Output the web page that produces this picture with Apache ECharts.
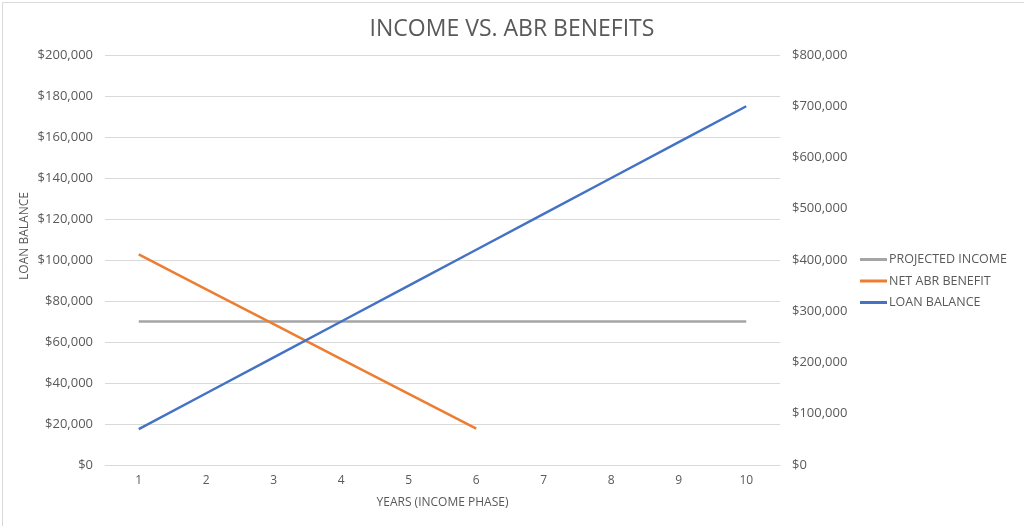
<!DOCTYPE html>
<html>
<head>
<meta charset="utf-8">
<script src="https://cdn.jsdelivr.net/npm/echarts@6/dist/echarts.min.js"></script>
<style>
  html, body { margin: 0; padding: 0; background: #fff; }
  #chart { width: 1024px; height: 526px; }
</style>
</head>
<body>
<div id="chart"></div>
<script>
// Years of the income phase
const years = ['1', '2', '3', '4', '5', '6', '7', '8', '9', '10'];
// Flat projected income (left axis)
const projectedIncome = [70000, 70000, 70000, 70000, 70000, 70000, 70000, 70000, 70000, 70000];
// Net ABR benefit, ends after year 6 (left axis)
const netAbrBenefit = [102700, 85700, 68700, 51700, 34700, 17700];
// Loan balance growth (right axis)
const loanBalance = [70000, 140000, 210000, 280000, 350000, 420000, 490000, 560000, 630000, 700000];

const FONT = '"Open Sans", "DejaVu Sans", sans-serif';
const TXT = '#595959';
const money = v => '$' + v.toLocaleString('en-US');

const chart = echarts.init(document.getElementById('chart'));
chart.setOption({
  backgroundColor: '#ffffff',
  animation: false,
  textStyle: { fontFamily: FONT },
  title: {
    text: 'INCOME VS. ABR BENEFITS',
    left: 'center',
    top: 13,
    textStyle: { fontFamily: FONT, fontSize: 23, fontWeight: 'normal', color: TXT }
  },
  legend: {
    orient: 'vertical',
    left: 860,
    top: 253,
    padding: 0,
    itemWidth: 27,
    itemHeight: 3,
    itemGap: 8.5,
    icon: 'rect',
    textStyle: { fontFamily: FONT, fontSize: 12.5, color: TXT, padding: [0, 0, 0, -3] },
    data: ['PROJECTED INCOME', 'NET ABR BENEFIT', 'LOAN BALANCE']
  },
  grid: { left: 105, right: 244, top: 55, bottom: 61 },
  xAxis: {
    type: 'category',
    data: years,
    boundaryGap: true,
    name: 'YEARS (INCOME PHASE)',
    nameLocation: 'middle',
    nameGap: 32,
    nameTextStyle: { fontFamily: FONT, fontSize: 12, color: TXT },
    axisLine: { show: true, lineStyle: { color: '#d9d9d9' } },
    axisTick: { show: false },
    axisLabel: { color: TXT, fontSize: 12, margin: 10, fontFamily: FONT }
  },
  yAxis: [
    {
      type: 'value',
      min: 0, max: 200000, interval: 20000,
      axisLine: { show: false },
      axisTick: { show: false },
      splitLine: { lineStyle: { color: '#d9d9d9', width: 1 } },
      axisLabel: { color: TXT, fontSize: 13, margin: 12, fontFamily: FONT, formatter: money }
    },
    {
      type: 'value',
      min: 0, max: 800000, interval: 100000,
      axisLine: { show: false },
      axisTick: { show: false },
      splitLine: { show: false },
      axisLabel: { color: TXT, fontSize: 13, margin: 12, fontFamily: FONT, formatter: money }
    }
  ],
  series: [
    {
      name: 'PROJECTED INCOME', type: 'line', yAxisIndex: 0,
      data: projectedIncome, showSymbol: false,
      lineStyle: { width: 2.5, color: '#A5A5A5' }, itemStyle: { color: '#A5A5A5' }
    },
    {
      name: 'NET ABR BENEFIT', type: 'line', yAxisIndex: 0,
      data: netAbrBenefit, showSymbol: false,
      lineStyle: { width: 2.5, color: '#ED7D31' }, itemStyle: { color: '#ED7D31' }
    },
    {
      name: 'LOAN BALANCE', type: 'line', yAxisIndex: 1,
      data: loanBalance, showSymbol: false,
      lineStyle: { width: 2.5, color: '#4472C4' }, itemStyle: { color: '#4472C4' }
    }
  ],
  graphic: [
    {
      type: 'rect', left: 0, top: 0, silent: true,
      shape: { x: 0.5, y: 0.5, width: 1022, height: 524 },
      style: { fill: 'none', stroke: '#d9d9d9', lineWidth: 1 }
    },
    {
      type: 'text', x: 25, y: 236, rotation: Math.PI / 2, silent: true,
      style: {
        text: 'LOAN BALANCE', fill: TXT, font: '12px ' + FONT,
        textAlign: 'center', textVerticalAlign: 'middle'
      }
    }
  ]
});
</script>
</body>
</html>
